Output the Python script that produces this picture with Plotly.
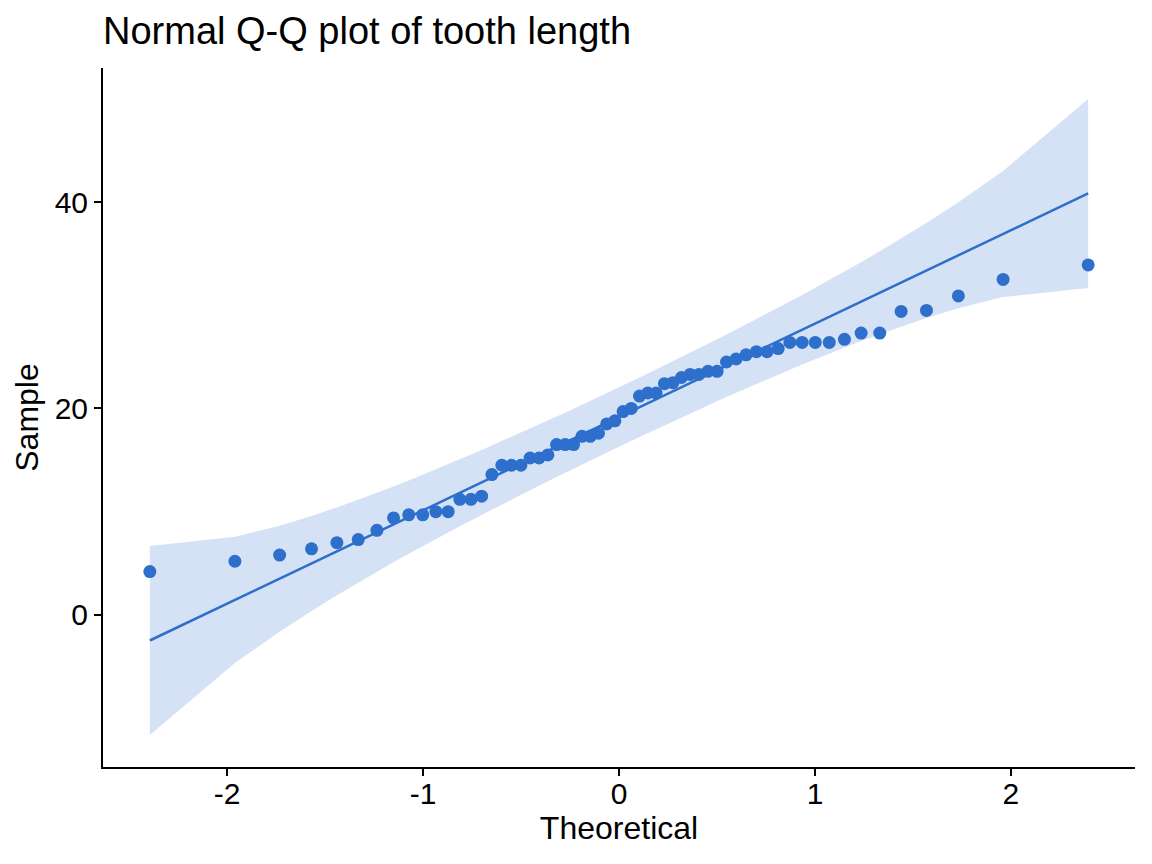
import plotly.graph_objects as go
from statistics import NormalDist
import math

# ToothGrowth$len (60 observations)
tooth_len = [4.2, 11.5, 7.3, 5.8, 6.4, 10.0, 11.2, 11.2, 5.2, 7.0,
             16.5, 16.5, 15.2, 17.3, 22.5, 17.3, 13.6, 14.5, 18.8, 15.5,
             23.6, 18.5, 33.9, 25.5, 26.4, 32.5, 26.7, 21.5, 23.3, 29.5,
             15.2, 21.5, 17.6, 9.7, 14.5, 10.0, 8.2, 9.4, 16.5, 9.7,
             19.7, 23.3, 23.6, 26.4, 20.0, 25.2, 25.8, 21.2, 14.5, 27.3,
             25.5, 26.4, 22.4, 24.5, 24.8, 30.9, 26.4, 27.3, 29.4, 23.0]

x_ticks = [-2, -1, 0, 1, 2]
y_ticks = [0, 20, 40]

title_text = "Normal Q-Q plot of tooth length"
x_title = "Theoretical"
y_title = "Sample"

COLOR = "#2E6FCC"
BAND = "rgba(46,111,204,0.2)"

# Q-Q statistics (as in ggpubr::ggqqplot)
nd = NormalDist()
n = len(tooth_len)
sample = sorted(tooth_len)
probs = [(i + 0.5) / n for i in range(n)]
theo = [nd.inv_cdf(p) for p in probs]


def quantile7(v, q):
    h = (len(v) - 1) * q
    lo = math.floor(h)
    hi = min(lo + 1, len(v) - 1)
    return v[lo] + (h - lo) * (v[hi] - v[lo])


q1, q3 = quantile7(sample, 0.25), quantile7(sample, 0.75)
z1, z3 = nd.inv_cdf(0.25), nd.inv_cdf(0.75)
slope = (q3 - q1) / (z3 - z1)
intercept = q1 - slope * z1
fit = [intercept + slope * z for z in theo]
zc = nd.inv_cdf(0.975)
se = [(slope / nd.pdf(z)) * math.sqrt(p * (1 - p) / n) for z, p in zip(theo, probs)]
upper = [f + zc * s for f, s in zip(fit, se)]
lower = [f - zc * s for f, s in zip(fit, se)]

fig = go.Figure()
fig.add_trace(go.Scatter(x=theo + theo[::-1], y=upper + lower[::-1], fill="toself",
                         fillcolor=BAND, line=dict(width=0), mode="lines",
                         hoverinfo="skip", showlegend=False))
fig.add_trace(go.Scatter(x=theo, y=fit, mode="lines",
                         line=dict(color=COLOR, width=2.5), showlegend=False))
fig.add_trace(go.Scatter(x=theo, y=sample, mode="markers",
                         marker=dict(color=COLOR, size=13, line=dict(width=0)),
                         showlegend=False))

font_family = "Liberation Sans, Arial, sans-serif"
TICK = 30
AXT = 32
fig.update_layout(
    width=1152, height=864,
    margin=dict(l=103, r=17, t=68, b=97),
    paper_bgcolor="white", plot_bgcolor="white",
    font=dict(family=font_family, color="black", size=TICK),
    title=dict(text=title_text, x=103 / 1152, xanchor="left", xref="container",
               y=1 - 31 / 864, yanchor="middle", yref="container",
               font=dict(size=38, color="black")),
    showlegend=False,
)
fig.update_xaxes(range=[-2.633, 2.633], tickvals=x_ticks, ticktext=[str(v) for v in x_ticks],
                 showgrid=False, zeroline=False, showline=True, linecolor="black", linewidth=2,
                 ticks="outside", ticklen=7, tickwidth=2, tickcolor="black",
                 ticklabelstandoff=-8,
                 tickfont=dict(size=TICK, color="black"),
                 title=dict(text=x_title, font=dict(size=AXT, color="black"), standoff=2))
fig.update_yaxes(range=[-14.73, 52.98], tickvals=y_ticks, ticktext=[str(v) for v in y_ticks],
                 showgrid=False, zeroline=False, showline=True, linecolor="black", linewidth=2,
                 ticks="outside", ticklen=7, tickwidth=2, tickcolor="black",
                 tickfont=dict(size=TICK, color="black"),
                 title=dict(text=y_title, font=dict(size=AXT, color="black"), standoff=6))

fig.write_html("out.html")
